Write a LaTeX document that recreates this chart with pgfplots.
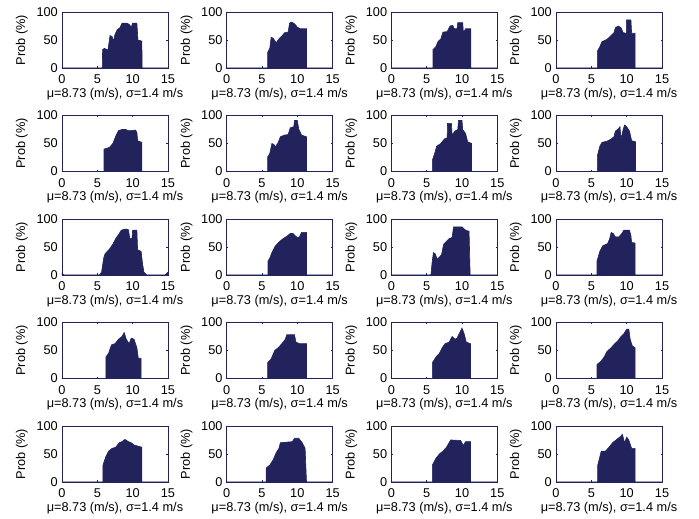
\documentclass[border=0pt]{standalone}
\usepackage{fontspec}
\setmainfont{Liberation Sans}
\usepackage{pgfplots}
\pgfplotsset{compat=1.18}
\usepgfplotslibrary{groupplots}
\definecolor{navy}{RGB}{34,35,92}
\newcommand\fs{\fontsize{12.8}{14}\selectfont}
\begin{document}
\begin{tikzpicture}[font=\fs]
\begin{groupplot}[
  group style={group size=4 by 5, horizontal sep=58.7bp, vertical sep=47.5bp},
  width=106bp, height=56bp, scale only axis,
  xmin=0, xmax=15, ymin=0, ymax=100,
  xtick={0,5,10,15}, ytick={0,50,100},
  axis line style={navy, line width=0.5pt},
  tick style={navy, line width=0.4pt}, major tick length=1.5bp,
  /pgf/number format/assume math mode=true,
  ticklabel style={font=\fs},
  xticklabel style={anchor=base, inner sep=0pt, yshift=-16bp},
  yticklabel style={anchor=east, inner sep=0pt, xshift=-4bp},
  xlabel={μ=8.73 (m/s), σ=1.4 m/s},
  ylabel={Prob (\%)},
  every axis x label/.style={at={(axis description cs:0.5,0)}, yshift=-29.3bp, anchor=base, inner sep=0pt},
  every axis y label/.style={at={(axis description cs:0,0.5)}, xshift=-34bp, rotate=90, anchor=south, inner sep=0pt},
  label style={font=\fs},
  p/.style={fill=navy, draw=navy, line width=0.6pt, no markers, sharp plot},
]
% Row 1
\nextgroupplot
\addplot[p] coordinates {(0,0)(5.7,0)(5.75,33)(6.0,35)(6.5,32)(6.8,58)(7.1,56)(7.3,48)(7.5,60)(7.8,68)(8.2,72)(8.5,80)(9.2,80)(9.5,78)(9.8,73)(10.0,80)(10.6,80)(10.75,50)(11.3,48)(11.35,0)(15,0)} \closedcycle;
\nextgroupplot
\addplot[p] coordinates {(0,0)(5.8,0)(5.8,28)(6.1,35)(6.3,55)(6.6,53)(7.0,45)(7.4,52)(7.8,57)(8.2,63)(8.7,64)(8.9,80)(9.2,82)(9.6,79)(10.0,73)(10.4,70)(11.3,70)(11.3,0)(15,0)} \closedcycle;
\nextgroupplot
\addplot[p] coordinates {(0,0)(5.9,0)(5.9,33)(6.3,38)(6.6,47)(7.0,52)(7.3,64)(7.9,65)(8.3,75)(8.7,76)(8.9,70)(9.3,70)(9.4,81)(10.1,81)(10.2,63)(10.5,70)(11.25,70)(11.25,0)(15,0)} \closedcycle;
\nextgroupplot
\addplot[p] coordinates {(0,0)(5.85,0)(5.85,30)(6.2,38)(6.5,47)(7.2,51)(7.8,58)(8.2,63)(8.4,72)(8.8,75)(9.2,72)(9.5,63)(9.95,62)(9.95,86)(10.6,86)(10.7,62)(11.2,62)(11.2,0)(15,0)} \closedcycle;
% Row 2
\nextgroupplot
\addplot[p] coordinates {(0,0)(5.95,0)(5.95,40)(6.5,42)(6.8,44)(7.2,50)(7.6,63)(8.0,73)(8.5,75)(9.0,75)(9.4,73)(9.8,73)(10.4,74)(10.6,70)(10.7,55)(11.3,52)(11.3,0)(15,0)} \closedcycle;
\nextgroupplot
\addplot[p] coordinates {(0,0)(5.8,0)(5.8,26)(6.1,32)(6.4,50)(6.7,48)(6.9,44)(7.3,52)(7.6,62)(8.2,65)(8.7,66)(9.0,78)(9.5,80)(9.6,91)(10.0,91)(10.2,76)(10.6,65)(11.3,62)(11.3,0)(15,0)} \closedcycle;
\nextgroupplot
\addplot[p] coordinates {(0,0)(5.8,0)(5.8,20)(6.2,35)(6.4,45)(7.0,50)(7.5,58)(7.9,60)(7.95,86)(8.5,86)(8.6,65)(9.0,72)(9.4,75)(9.5,91)(10.0,91)(10.1,75)(10.5,68)(10.8,53)(11.35,50)(11.35,0)(15,0)} \closedcycle;
\nextgroupplot
\addplot[p] coordinates {(0,0)(5.85,0)(5.85,28)(6.2,45)(6.5,52)(7.2,54)(7.8,58)(8.2,62)(8.4,72)(8.8,76)(9.05,80)(9.2,58)(9.5,75)(9.7,83)(10.0,80)(10.4,72)(10.7,55)(11.25,53)(11.25,0)(15,0)} \closedcycle;
% Row 3
\nextgroupplot
\addplot[p] coordinates {(0,3)(0.3,0)(5.3,0)(5.6,5)(5.9,30)(6.1,38)(6.7,46)(7.2,55)(7.6,65)(8.0,72)(8.4,80)(9.0,82)(9.4,81)(9.6,65)(9.9,65)(10.0,80)(10.6,80)(10.7,45)(11.2,42)(11.4,20)(11.6,5)(12.0,0)(14.6,0)(15,5)} \closedcycle;
\nextgroupplot
\addplot[p] coordinates {(0,0)(5.85,0)(5.85,25)(6.1,30)(6.4,40)(6.9,52)(7.5,60)(8.0,65)(8.5,69)(9.0,74)(9.4,74)(9.7,70)(10.0,67)(10.3,68)(10.6,76)(11.3,76)(11.3,0)(15,0)} \closedcycle;
\nextgroupplot
\addplot[p] coordinates {(0,0)(5.6,0)(5.75,20)(5.95,40)(6.2,38)(6.5,28)(6.8,32)(7.1,36)(7.4,55)(7.8,60)(8.2,65)(8.6,67)(8.8,86)(10.0,86)(10.5,80)(11.0,78)(11.15,0)(15,0)} \closedcycle;
\nextgroupplot
\addplot[p] coordinates {(0,0)(5.8,0)(5.8,25)(6.2,42)(6.6,52)(7.3,56)(7.6,65)(7.8,76)(8.1,74)(8.4,68)(8.9,68)(9.3,74)(9.6,80)(10.4,80)(10.6,70)(10.7,58)(11.2,57)(11.2,0)(15,0)} \closedcycle;
% Row 4
\nextgroupplot
\addplot[p] coordinates {(0,0)(6.2,0)(6.2,38)(6.6,45)(7.0,60)(7.5,62)(8.0,70)(8.5,75)(8.8,82)(9.1,70)(9.5,62)(9.8,72)(10.2,70)(10.6,55)(10.8,36)(11.2,36)(11.2,0)(15,0)} \closedcycle;
\nextgroupplot
\addplot[p] coordinates {(0,0)(5.8,0)(5.8,28)(6.3,35)(6.8,50)(7.3,55)(7.8,62)(8.3,70)(8.5,78)(9.6,78)(9.8,65)(10.3,62)(11.3,62)(11.3,0)(15,0)} \closedcycle;
\nextgroupplot
\addplot[p] coordinates {(0,0)(5.8,0)(5.8,28)(6.3,38)(6.8,45)(7.2,55)(7.6,62)(8.2,65)(8.6,75)(9.0,70)(9.3,72)(9.6,80)(10.0,90)(10.3,80)(10.6,65)(11.2,62)(11.2,0)(15,0)} \closedcycle;
\nextgroupplot
\addplot[p] coordinates {(0,0)(5.8,0)(5.8,25)(6.3,30)(6.8,38)(7.2,48)(7.8,55)(8.3,62)(8.8,68)(9.2,75)(9.6,80)(10.0,88)(10.3,88)(10.5,70)(10.8,58)(11.2,55)(11.2,0)(15,0)} \closedcycle;
% Row 5
\nextgroupplot
\addplot[p] coordinates {(0,0)(5.8,0)(5.8,30)(6.2,45)(6.6,55)(7.1,60)(7.6,62)(8.1,70)(8.5,72)(8.9,76)(9.4,72)(9.8,70)(10.2,66)(11.3,62)(11.3,0)(15,0)} \closedcycle;
\nextgroupplot
\addplot[p] coordinates {(0,0)(5.6,0)(5.6,25)(6.1,30)(6.6,40)(7.0,52)(7.4,60)(7.6,70)(9.3,72)(9.6,78)(10.2,78)(10.7,70)(11.1,60)(11.3,0)(15,0)} \closedcycle;
\nextgroupplot
\addplot[p] coordinates {(0,0)(5.8,0)(5.8,30)(6.3,42)(6.8,50)(7.3,55)(7.8,62)(8.4,75)(9.8,74)(10.2,65)(10.5,72)(11.2,72)(11.2,0)(15,0)} \closedcycle;
\nextgroupplot
\addplot[p] coordinates {(0,0)(5.9,0)(5.9,30)(6.4,55)(7.0,55)(7.5,62)(8.0,70)(8.5,75)(9.0,80)(9.4,85)(9.7,70)(10.0,80)(10.3,75)(10.7,60)(11.2,60)(11.2,0)(15,0)} \closedcycle;
\end{groupplot}
\path[use as bounding box] ([xshift=-62bp,yshift=12bp]group c1r1.north west) rectangle ([xshift=37bp,yshift=-37bp]group c4r5.south east);
\end{tikzpicture}
\end{document}
